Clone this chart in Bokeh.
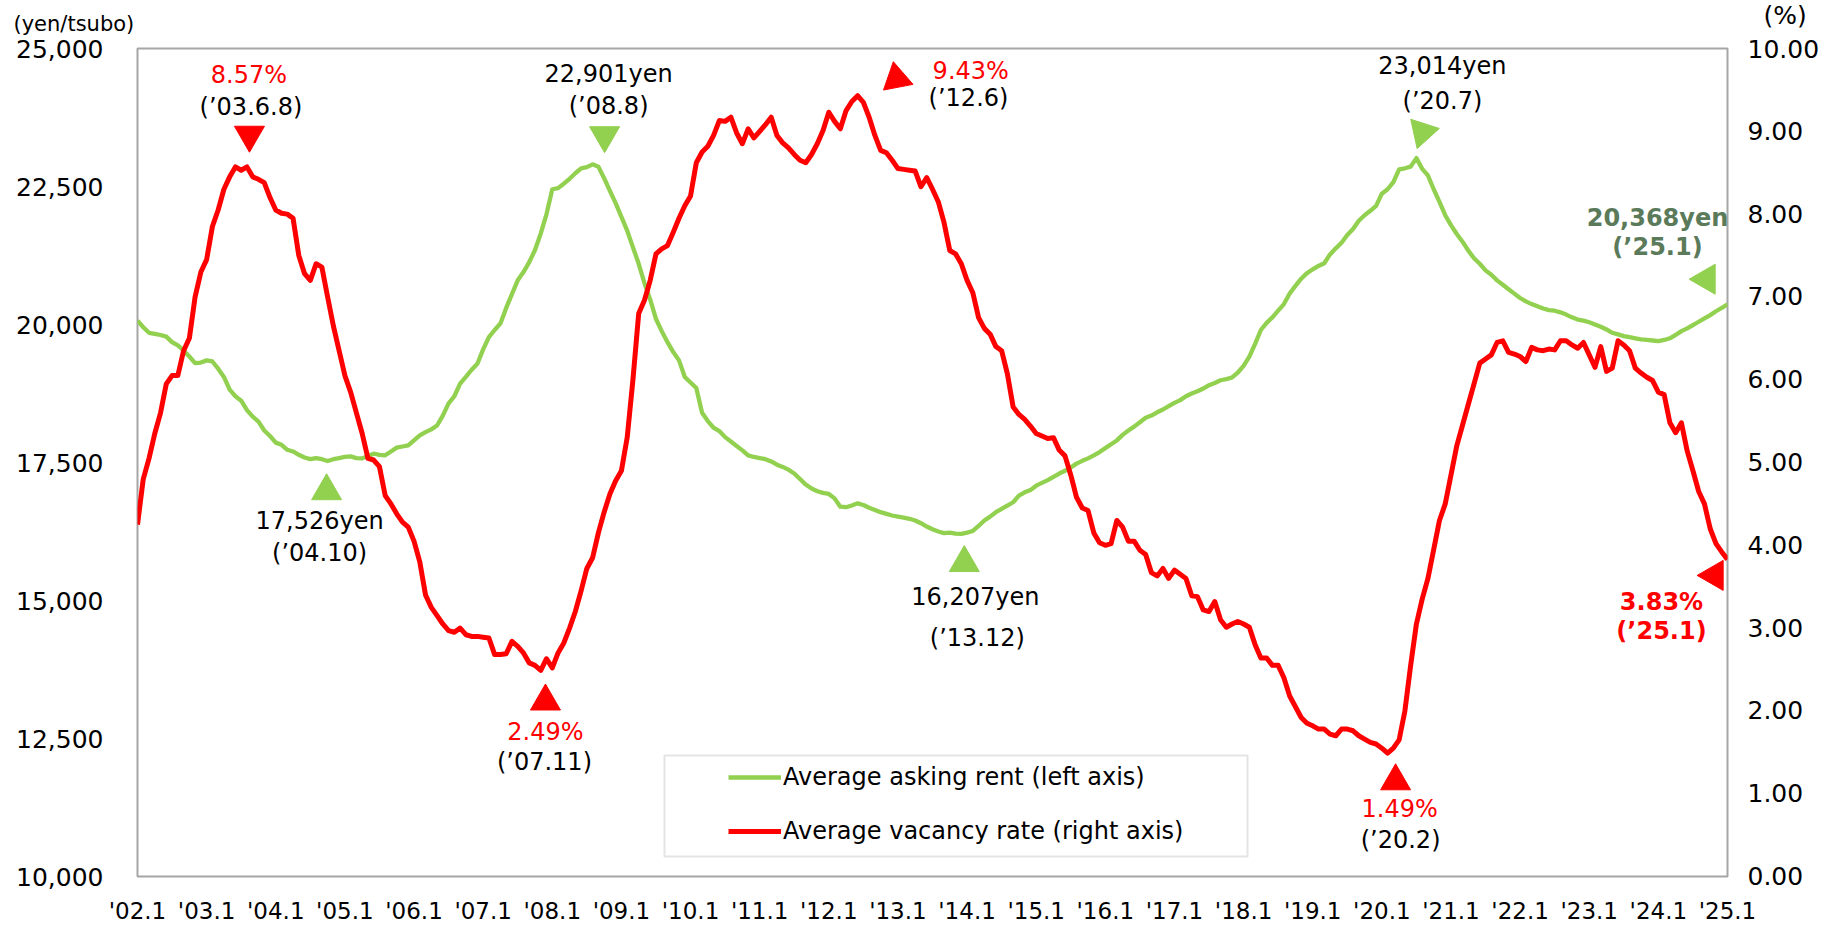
import math
from bokeh.plotting import figure
from bokeh.models import (Range1d, LinearAxis, FixedTicker, NumeralTickFormatter, Label,
                          Legend, LegendItem, BoxAnnotation, ColumnDataSource)
from bokeh.embed import file_html
from bokeh.resources import INLINE

# ---------------- data ----------------
year_labels = ["'02.1", "'03.1", "'04.1", "'05.1", "'06.1", "'07.1", "'08.1", "'09.1",
               "'10.1", "'11.1", "'12.1", "'13.1", "'14.1", "'15.1", "'16.1", "'17.1",
               "'18.1", "'19.1", "'20.1", "'21.1", "'22.1", "'23.1", "'24.1", "'25.1"]

# Average asking rent (yen/tsubo), monthly 2002.1 - 2025.1
rent = [
    20070, 19950, 19850, 19830, 19810, 19780, 19680, 19620, 19530, 19420, 19300, 19310,  # 2002
    19350, 19330, 19200, 19050, 18820, 18700, 18620, 18450, 18330, 18240, 18080, 17980,  # 2003
    17860, 17820, 17730, 17700, 17640, 17590, 17560, 17580, 17560, 17526, 17560, 17580,  # 2004
    17600, 17610, 17580, 17575, 17620, 17660, 17640, 17630, 17700, 17770, 17790, 17810,  # 2005
    17900, 17990, 18050, 18100, 18170, 18350, 18570, 18700, 18930, 19050, 19180, 19290,  # 2006
    19550, 19770, 19900, 20020, 20300, 20550, 20800, 20950, 21130, 21350, 21650, 22000,  # 2007
    22450, 22470, 22550, 22640, 22740, 22830, 22850, 22901, 22860, 22650, 22420, 22200,  # 2008
    21950, 21700, 21400, 21100, 20750, 20450, 20100, 19880, 19680, 19500, 19350, 19050,  # 2009
    18950, 18850, 18400, 18250, 18130, 18070, 17960, 17880, 17800, 17720, 17630, 17600,  # 2010
    17580, 17560, 17520, 17460, 17420, 17370, 17300, 17200, 17100, 17030, 16980, 16950,  # 2011
    16930, 16850, 16700, 16690, 16720, 16760, 16730, 16680, 16640, 16600, 16570, 16540,  # 2012
    16520, 16500, 16480, 16450, 16400, 16340, 16290, 16250, 16220, 16230, 16210, 16207,  # 2013
    16230, 16260, 16350, 16450, 16520, 16600, 16660, 16720, 16780, 16900, 16960, 17000,  # 2014
    17080, 17130, 17180, 17240, 17300, 17350, 17410, 17480, 17530, 17575, 17630, 17690,  # 2015
    17760, 17830, 17900, 18000, 18080, 18150, 18230, 18310, 18350, 18410, 18460, 18520,  # 2016
    18580, 18630, 18700, 18750, 18790, 18840, 18900, 18940, 18990, 19010, 19040, 19130,  # 2017
    19250, 19420, 19650, 19900, 20030, 20130, 20250, 20370, 20560, 20700, 20830, 20930,  # 2018
    21000, 21060, 21110, 21270, 21380, 21480, 21620, 21730, 21880, 21980, 22060, 22150,  # 2019
    22370, 22450, 22580, 22810, 22830, 22860, 23014, 22820, 22700, 22450, 22220, 21980,  # 2020
    21800, 21640, 21500, 21340, 21200, 21100, 20980, 20900, 20800, 20720, 20640, 20560,  # 2021
    20480, 20420, 20370, 20330, 20290, 20260, 20250, 20220, 20180, 20130, 20090, 20070,  # 2022
    20040, 20000, 19960, 19910, 19850, 19820, 19790, 19770, 19750, 19730, 19720, 19710,  # 2023
    19700, 19720, 19750, 19810, 19880, 19930, 19990, 20050, 20110, 20170, 20240, 20300,  # 2024
    20368,                                                                                # 2025
]

# Average vacancy rate (%), monthly 2002.1 - 2025.1
vacancy = [
    4.25, 4.80, 5.05, 5.35, 5.60, 5.95, 6.05, 6.05, 6.35, 6.50, 7.00, 7.30,  # 2002
    7.45, 7.85, 8.05, 8.30, 8.45, 8.57, 8.53, 8.57, 8.45, 8.42, 8.38, 8.20,  # 2003
    8.05, 8.01, 8.00, 7.95, 7.50, 7.28, 7.20, 7.40, 7.36, 7.00, 6.65, 6.35,  # 2004
    6.05, 5.85, 5.60, 5.35, 5.05, 5.03, 4.95, 4.60, 4.50, 4.38, 4.28, 4.22,  # 2005
    4.05, 3.80, 3.40, 3.25, 3.15, 3.05, 2.97, 2.95, 3.00, 2.92, 2.90, 2.90,  # 2006
    2.89, 2.88, 2.68, 2.68, 2.69, 2.84, 2.78, 2.70, 2.58, 2.55, 2.49, 2.63,  # 2007
    2.52, 2.70, 2.82, 3.00, 3.20, 3.45, 3.72, 3.85, 4.15, 4.40, 4.62, 4.78,  # 2008
    4.90, 5.30, 6.00, 6.80, 6.96, 7.20, 7.52, 7.58, 7.62, 7.78, 7.95, 8.10,  # 2009
    8.22, 8.62, 8.75, 8.82, 8.95, 9.13, 9.12, 9.17, 8.98, 8.85, 9.03, 8.92,  # 2010
    9.00, 9.08, 9.17, 8.95, 8.86, 8.80, 8.72, 8.65, 8.62, 8.72, 8.85, 9.01,  # 2011
    9.23, 9.12, 9.03, 9.25, 9.36, 9.43, 9.35, 9.17, 8.95, 8.77, 8.74, 8.65,  # 2012
    8.55, 8.54, 8.53, 8.52, 8.33, 8.44, 8.30, 8.15, 7.90, 7.56, 7.52, 7.40,  # 2013
    7.20, 7.05, 6.75, 6.62, 6.55, 6.40, 6.35, 6.07, 5.67, 5.58, 5.52, 5.44,  # 2014
    5.35, 5.32, 5.29, 5.30, 5.15, 5.08, 4.85, 4.58, 4.45, 4.42, 4.15, 4.03,  # 2015
    4.00, 4.02, 4.30, 4.22, 4.05, 4.05, 3.94, 3.89, 3.67, 3.63, 3.72, 3.60,  # 2016
    3.70, 3.65, 3.60, 3.39, 3.38, 3.22, 3.20, 3.32, 3.10, 3.01, 3.05, 3.08,  # 2017
    3.05, 3.01, 2.80, 2.64, 2.64, 2.55, 2.55, 2.40, 2.18, 2.05, 1.92, 1.85,  # 2018
    1.82, 1.78, 1.78, 1.72, 1.70, 1.78, 1.78, 1.76, 1.70, 1.66, 1.62, 1.60,  # 2019
    1.55, 1.49, 1.55, 1.65, 2.00, 2.55, 3.05, 3.35, 3.60, 3.95, 4.30, 4.50,  # 2020
    4.85, 5.20, 5.45, 5.70, 5.95, 6.20, 6.25, 6.30, 6.45, 6.47, 6.33, 6.31,  # 2021
    6.28, 6.22, 6.39, 6.36, 6.35, 6.37, 6.36, 6.47, 6.47, 6.42, 6.38, 6.45,  # 2022
    6.30, 6.15, 6.40, 6.10, 6.14, 6.47, 6.42, 6.35, 6.14, 6.08, 6.03, 5.99,  # 2023
    5.85, 5.82, 5.48, 5.36, 5.48, 5.14, 4.90, 4.65, 4.50, 4.20, 4.02, 3.92,  # 2024
    3.83,                                                                    # 2025
]

rent_ticks = [10000, 12500, 15000, 17500, 20000, 22500, 25000]
vac_ticks = [0, 1, 2, 3, 4, 5, 6, 7, 8, 9, 10]
rent_unit = "(yen/tsubo)"
vac_unit = "(%)"

# ---------------- style ----------------
FONT = "DejaVu Sans"
GREEN = "#92D050"
RED = "#FF0000"
DKGREEN = "#5a7a5a"
GRAY = "#A6A6A6"
BLACK = "#000000"
NBSP = "\u00a0"

months = list(range(len(rent)))
FW, FH = 1590, 828
X0, X1 = months[0], months[-1]
RLO, RHI = rent_ticks[0], rent_ticks[-1]
VLO, VHI = vac_ticks[0], vac_ticks[-1]
ppm = FW / (X1 - X0)
ppr = FH / (RHI - RLO)
ppv = FH / (VHI - VLO)

p = figure(frame_width=FW, frame_height=FH,
           x_range=Range1d(X0, X1), y_range=Range1d(RLO, RHI),
           min_border_left=137, min_border_right=114, min_border_top=48, min_border_bottom=0,
           output_backend="svg", toolbar_location=None,
           background_fill_color="white", border_fill_color="white")
p.outline_line_color = GRAY
p.outline_line_width = 2
p.xgrid.visible = False
p.ygrid.visible = False
p.extra_y_ranges = {"vac": Range1d(VLO, VHI)}

# left unit label, drawn as the plot title above the frame
p.title.text = rent_unit
p.title.align = "left"
p.title.offset = -124
p.title.vertical_align = "top"
p.title.standoff = 21
p.title.text_font = FONT
p.title.text_font_size = "21px"
p.title.text_font_style = "normal"
p.title.text_color = BLACK


def style_axis(ax, size, standoff, font=FONT):
    ax.axis_line_color = None
    ax.major_tick_line_color = None
    ax.minor_tick_line_color = None
    ax.major_tick_out = 0
    ax.major_tick_in = 0
    ax.minor_tick_out = 0
    ax.minor_tick_in = 0
    ax.major_label_text_font = font
    ax.major_label_text_font_size = size
    ax.major_label_text_color = BLACK
    ax.major_label_standoff = standoff


yl = p.yaxis[0]
yl.ticker = FixedTicker(ticks=rent_ticks)
yl.formatter = NumeralTickFormatter(format="0,0")
style_axis(yl, "25px", 34)

yr = LinearAxis(y_range_name="vac", ticker=FixedTicker(ticks=vac_ticks),
                formatter=NumeralTickFormatter(format="0.00"))
style_axis(yr, "25px", 20)
# the unit label sits one line above the top tick label of the right axis
yr.major_label_overrides = {VHI: f"{NBSP * 2}{vac_unit}\n{VHI:.2f}\n{NBSP}"}
p.add_layout(yr, "right")

xticks = list(range(X0, X1 + 1, 12))
xa = p.xaxis[0]
xa.ticker = FixedTicker(ticks=xticks)
xa.major_label_overrides = {t: lab for t, lab in zip(xticks, year_labels)}
style_axis(xa, "23px", 21)

# ---------------- lines ----------------
r_rent = p.line(months, rent, line_color=GREEN, line_width=4.3, line_join="round")
r_vac = p.line(months, vacancy, line_color=RED, line_width=5, line_join="round",
               y_range_name="vac")

# ---------------- legend ----------------
box = BoxAnnotation(left=527, right=1110, top=121, bottom=20,
                    left_units="screen", right_units="screen",
                    top_units="screen", bottom_units="screen",
                    fill_color=None, line_color=GRAY, line_width=2)
p.add_layout(box)
legend = Legend(items=[LegendItem(label="Average asking rent (left axis)", renderers=[r_rent]),
                       LegendItem(label="Average vacancy rate (right axis)", renderers=[r_vac])],
                location=(591, 30), padding=0, margin=0, border_line_color=None,
                background_fill_alpha=0, glyph_width=53, glyph_height=30, label_height=30,
                label_standoff=2, spacing=24, label_text_font=FONT,
                label_text_font_size="24px", label_text_color=BLACK)
p.add_layout(legend)

# ---------------- annotations ----------------
def idx(year, month):
    return (year - 2002) * 12 + (month - 1)

# series, (year, month), date text, marker, angle, triangle offset(px, down +),
# line1 offset, line2 offset, align, bold, color1, color2
annots = [
    ("vac", (2003, 8), "(\u201903.6.8)", "inverted_triangle", 0.0, (2.5, -32), (2, -92), (4, -60), "center", False, RED, BLACK),
    ("rent", (2008, 8), "(\u201908.8)", "inverted_triangle", 0.0, (12, -29), (16, -90), (16, -58), "center", False, BLACK, BLACK),
    ("vac", (2012, 6), "(\u201912.6)", "triangle", 0.19, (39, -17), (75, -25), (71, 2), "left", False, RED, BLACK),
    ("vac", (2007, 11), "(\u201907.11)", "triangle", 0.0, (4.7, 31), (4.7, 62), (3.7, 92), "center", False, RED, BLACK),
    ("rent", (2004, 10), "(\u201904.10)", "triangle", 0.0, (-1, 30), (-8, 60), (-8, 92), "center", False, BLACK, BLACK),
    ("rent", (2013, 12), "(\u201913.12)", "triangle", 0.0, (3, 29), (14, 63), (16, 104), "center", False, BLACK, BLACK),
    ("rent", (2020, 7), "(\u201920.7)", "inverted_triangle", -0.31, (6, -26), (26, -92), (26, -57), "center", False, BLACK, BLACK),
    ("vac", (2020, 2), "(\u201920.2)", "triangle", 0.0, (8, 28), (12, 56), (13, 87), "center", False, RED, BLACK),
    ("rent", (2025, 1), "(\u201925.1)", "triangle", math.pi / 2, (-21, -25), (-70, -86), (-70, -57), "center", True, DKGREEN, DKGREEN),
    ("vac", (2025, 1), "(\u201925.1)", "triangle", math.pi / 2, (-13, 16), (-66, 43), (-66, 72), "center", True, RED, RED),
]

tri = {"rent": dict(x=[], y=[], marker=[], angle=[], color=[]),
       "vac": dict(x=[], y=[], marker=[], angle=[], color=[])}

for series, (yy, mm), date_txt, mk, ang, toff, o1, o2, align, bold, c1, c2 in annots:
    i = idx(yy, mm)
    if series == "rent":
        val = rent[i]
        first = f"{val:,}yen"
        ppu = ppr
        tcol = GREEN
        rng = "default"
    else:
        val = vacancy[i]
        first = f"{val:.2f}%"
        ppu = ppv
        tcol = RED
        rng = "vac"
    d = tri[series]
    d["x"].append(months[i] + toff[0] / ppm)
    d["y"].append(val - toff[1] / ppu)
    d["marker"].append(mk)
    d["angle"].append(ang)
    d["color"].append(tcol)
    for txt, off, col in ((first, o1, c1), (date_txt, o2, c2)):
        p.add_layout(Label(x=months[i], y=val, y_range_name=rng,
                           x_offset=off[0], y_offset=-off[1], text=txt,
                           text_font=FONT, text_font_size="24px",
                           text_font_style="bold" if bold else "normal",
                           text_color=col, text_align=align, text_baseline="middle"))

p.scatter(x="x", y="y", marker="marker", angle="angle", color="color", size=30,
          source=ColumnDataSource(tri["rent"]))
p.scatter(x="x", y="y", marker="marker", angle="angle", color="color", size=30,
          source=ColumnDataSource(tri["vac"]), y_range_name="vac")

open("out.html", "w").write(file_html(p, INLINE))
